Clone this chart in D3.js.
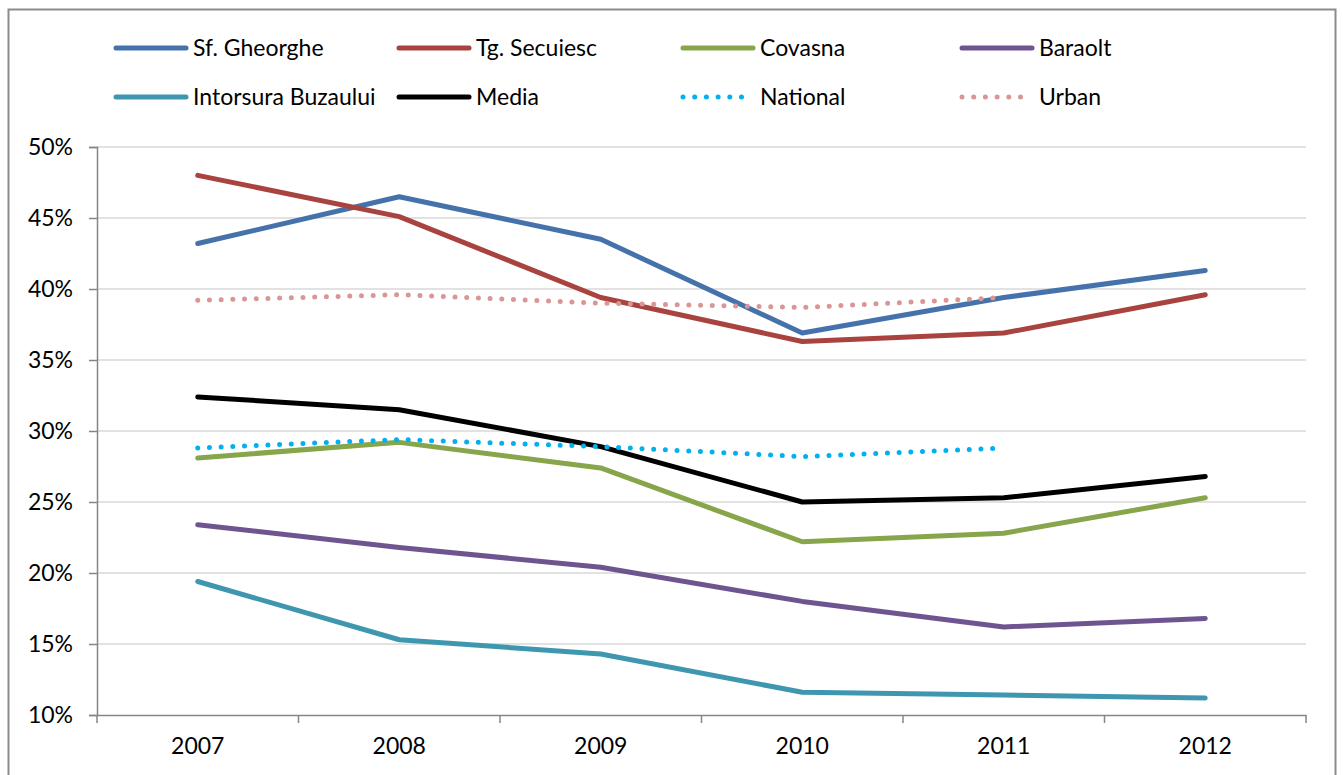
<!DOCTYPE html>
<html>
<head>
<meta charset="utf-8">
<script src="https://cdn.jsdelivr.net/npm/d3@7"></script>
<style>
  html, body { margin: 0; padding: 0; background: #fff; }
  svg { display: block; }
  text { font-family: Lato, "Open Sans", sans-serif; fill: #000; }
</style>
</head>
<body>
<svg id="chart" width="1343" height="775"></svg>
<script>
const years = ["2007", "2008", "2009", "2010", "2011", "2012"];
const yTicks = [0.10, 0.15, 0.20, 0.25, 0.30, 0.35, 0.40, 0.45, 0.50];

const sfGheorghe = [0.432, 0.465, 0.435, 0.369, 0.394, 0.413];
const tgSecuiesc = [0.480, 0.451, 0.394, 0.363, 0.369, 0.396];
const covasna = [0.281, 0.292, 0.274, 0.222, 0.228, 0.253];
const baraolt = [0.234, 0.218, 0.204, 0.180, 0.162, 0.168];
const intorsura = [0.194, 0.153, 0.143, 0.116, 0.114, 0.112];
const media = [0.324, 0.315, 0.289, 0.250, 0.253, 0.268];
const national = [0.288, 0.294, 0.289, 0.282, 0.288, null];
const urban = [0.392, 0.396, 0.390, 0.387, 0.394, null];

const seriesNames = ["Sf. Gheorghe", "Tg. Secuiesc", "Covasna", "Baraolt", "Intorsura Buzaului", "Media", "National", "Urban"];
const seriesValues = [sfGheorghe, tgSecuiesc, covasna, baraolt, intorsura, media, national, urban];
const seriesColors = ["#4672AB", "#A9433F", "#87A54B", "#6F558F", "#3E97AF", "#000000", "#00B0F0", "#D99694"];
const seriesDotted = [false, false, false, false, false, false, true, true];

const FONT = 23;
const svg = d3.select("#chart");

// outer border
svg.append("path")
  .attr("d", "M8.5,775 V9.5 H1335.5 V775")
  .attr("fill", "none").attr("stroke", "#8c8c8c").attr("stroke-width", 2);

const plot = { left: 97, right: 1306, top: 147, bottom: 715 };

const x = d3.scaleBand().domain(years).range([plot.left, plot.right]);
const y = d3.scaleLinear().domain([0.10, 0.50]).range([plot.bottom, plot.top]);

// gridlines
svg.append("g").selectAll("line").data(yTicks.filter(t => t > 0.10)).join("line")
  .attr("x1", plot.left).attr("x2", plot.right)
  .attr("y1", d => y(d)).attr("y2", d => y(d))
  .attr("stroke", "#d9d9d9").attr("stroke-width", 1.5);

// y axis
const yAxis = svg.append("g").attr("transform", `translate(${plot.left},0)`)
  .call(d3.axisLeft(y).tickValues(yTicks).tickFormat(d3.format(".0%")).tickSize(8).tickPadding(16));
yAxis.select(".domain").attr("stroke", "#868686").attr("stroke-width", 1.5);
yAxis.selectAll(".tick line").attr("stroke", "#868686").attr("stroke-width", 1.5);
yAxis.selectAll(".tick text").attr("font-size", FONT).attr("font-family", "Lato, sans-serif").attr("fill", "#000");

// x axis
const xAxis = svg.append("g").attr("transform", `translate(0,${plot.bottom})`)
  .call(d3.axisBottom(x).tickSize(0).tickPadding(23));
xAxis.select(".domain").attr("stroke", "#868686").attr("stroke-width", 1.5);
xAxis.selectAll(".tick text").attr("font-size", FONT).attr("font-family", "Lato, sans-serif").attr("fill", "#000");
// category boundary ticks
const bounds = years.map(d => x(d)).concat([x(years[years.length - 1]) + x.bandwidth()]);
svg.append("g").selectAll("line").data(bounds).join("line")
  .attr("x1", d => d).attr("x2", d => d)
  .attr("y1", plot.bottom).attr("y2", plot.bottom + 8)
  .attr("stroke", "#868686").attr("stroke-width", 1.5);

// lines
const line = d3.line()
  .defined(d => d.v !== null)
  .x(d => x(d.year) + x.bandwidth() / 2)
  .y(d => y(d.v));

seriesValues.forEach((vals, i) => {
  const data = vals.map((v, j) => ({ year: years[j], v }));
  const p = svg.append("path")
    .datum(data)
    .attr("d", line)
    .attr("fill", "none")
    .attr("stroke", seriesColors[i])
    .attr("stroke-width", 5)
    .attr("stroke-linejoin", "round")
    .attr("stroke-linecap", "round");
  if (seriesDotted[i]) p.attr("stroke-dasharray", "0 11.7");
});

// legend
const legCols = [116, 399, 683, 962];
const legRows = [48, 97];
seriesNames.forEach((name, i) => {
  const lx = legCols[i % 4];
  const ly = legRows[Math.floor(i / 4)];
  const l = svg.append("line")
    .attr("x1", lx).attr("x2", lx + 70)
    .attr("y1", ly).attr("y2", ly)
    .attr("stroke", seriesColors[i]).attr("stroke-width", 5)
    .attr("stroke-linecap", "round");
  if (seriesDotted[i]) l.attr("stroke-dasharray", "0 11.7");
  svg.append("text")
    .attr("x", lx + 77).attr("y", ly)
    .attr("dy", "0.35em")
    .attr("font-size", FONT)
    .text(name);
});
</script>
</body>
</html>
